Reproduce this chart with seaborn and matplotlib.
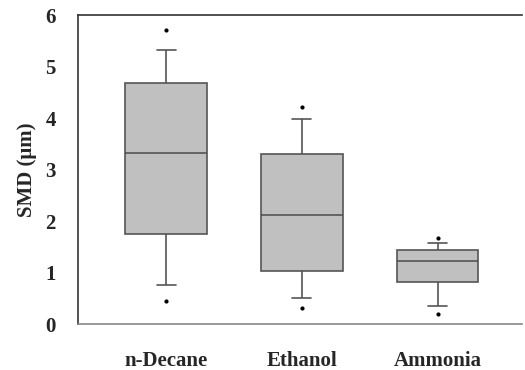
import pandas as pd
import matplotlib
matplotlib.use('Agg')
import matplotlib.pyplot as plt
import seaborn as sns

# Box summary values (SMD in µm)
fuels = ['n-Decane', 'Ethanol', 'Ammonia']
q1 = [1.75, 1.03, 0.82]
median = [3.33, 2.12, 1.23]
q3 = [4.68, 3.30, 1.43]
whisker_lo = [0.76, 0.50, 0.35]
whisker_hi = [5.32, 3.98, 1.57]
point_lo = [0.45, 0.31, 0.19]
point_hi = [5.71, 4.21, 1.68]

# build 9 samples per fuel so the 10/90 percentile boxplot reproduces the stats
rows = []
for i, f in enumerate(fuels):
    vals = [point_lo[i], whisker_lo[i], q1[i], q1[i], median[i],
            q3[i], q3[i], whisker_hi[i], point_hi[i]]
    for v in vals:
        rows.append({'Fuel': f, 'SMD': v})
df = pd.DataFrame(rows)

sns.set_style('white')
plt.rcParams['font.family'] = ['Liberation Serif', 'DejaVu Serif']

fig = plt.figure(figsize=(5.25, 3.7), dpi=100)
ax = fig.add_axes([0.1486, 0.124, 0.845, 0.835])

edge = '#555555'
sns.boxplot(data=df, x='Fuel', y='SMD', order=fuels, whis=(10, 90), width=0.6,
            color='#c0c0c0', linewidth=1.2, saturation=1, ax=ax,
            boxprops={'facecolor': '#c0c0c0', 'edgecolor': edge},
            whiskerprops={'color': edge}, capprops={'color': edge},
            medianprops={'color': edge},
            flierprops={'marker': 'o', 'markersize': 2, 'markerfacecolor': 'black',
                        'markeredgecolor': 'black'})
# shorter caps
for line in ax.lines:
    xd = line.get_xdata()
    if len(xd) == 2 and xd[0] != xd[1]:
        yd = line.get_ydata()
        if yd[0] == yd[1] and abs(xd[1] - xd[0]) < 0.35:
            c = (xd[0] + xd[1]) / 2
            line.set_xdata([c - 0.07, c + 0.07])

ax.set_xlim(-0.65, 2.62)
ax.set_ylim(0, 6)
ax.set_yticks(range(0, 7))
ax.set_xlabel('')
ax.set_ylabel('SMD (μm)', fontsize=15, fontweight='bold', labelpad=6)

for lab in ax.get_yticklabels():
    lab.set_fontsize(15)
    lab.set_fontweight('bold')
for lab in ax.get_xticklabels():
    lab.set_fontsize(15)
    lab.set_fontweight('bold')

ax.tick_params(axis='y', direction='out', length=6, width=1, color='#333333', pad=10)
ax.tick_params(axis='x', direction='out', length=4, width=1, color='#777777', pad=15)

ax.spines['left'].set_color('#333333')
ax.spines['top'].set_color('#333333')
ax.spines['bottom'].set_color('#888888')
ax.spines['right'].set_visible(False)
for s in ['left', 'top', 'bottom']:
    ax.spines[s].set_linewidth(1.2)

fig.savefig('out.png', dpi=100)
